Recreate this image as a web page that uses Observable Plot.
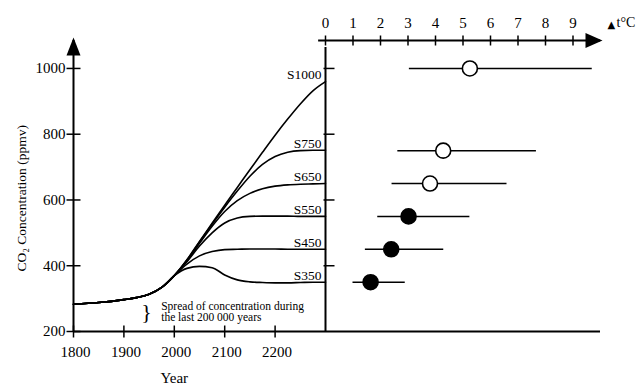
<!DOCTYPE html>
<html><head><meta charset="utf-8">
<script src="https://cdn.jsdelivr.net/npm/d3@7"></script>
<script src="https://cdn.jsdelivr.net/npm/@observablehq/plot@0.6"></script>
<style>
body{margin:0;background:#fff;}
#wrap{position:relative;width:637px;height:387px;background:#fff;}
#wrap svg{position:absolute;left:0;top:0;background:transparent !important;}
</style></head><body><div id="wrap"></div>
<script>
// ---- data ----
const histYears = [1800, 1850, 1900, 1925, 1950, 1975, 2000];
const histPpm   = [283, 288, 297, 303, 313, 334, 370];
const futureYears = [2025, 2050, 2075, 2100, 2125, 2150, 2175, 2200, 2225, 2250, 2275, 2300];
const scenarioNames = ["S1000", "S750", "S650", "S550", "S450", "S350"];
const s1000 = [418, 474, 529, 584, 638, 692, 745, 797, 846, 892, 932, 960];
const s750  = [417, 472, 526, 578, 627, 672, 708, 732, 745, 750, 751, 751];
const s650  = [415, 468, 520, 565, 598, 620, 634, 642, 646, 648, 649, 650];
const s550  = [412, 460, 500, 530, 545, 550, 551, 551, 551, 550, 550, 550];
const s450  = [405, 430, 443, 449, 450, 451, 451, 451, 450, 450, 450, 450];
const s350  = [392, 398, 394, 372, 357, 351, 349, 348, 348, 349, 350, 350];
const scenarioSeries = [s1000, s750, s650, s550, s450, s350];
const stabLevel = [1000, 750, 650, 550, 450, 350];
const tempBest = [5.25, 4.28, 3.80, 3.02, 2.39, 1.64];
const tempLow  = [3.05, 2.63, 2.42, 1.90, 1.45, 1.00];
const tempHigh = [9.70, 7.67, 6.60, 5.25, 4.30, 2.90];
const openMarker = [true, true, true, false, false, false];
const yTickValues = [200, 400, 600, 800, 1000];
const dividerTicks = [400, 600, 800, 1000];
const xTickValues = [1800, 1900, 2000, 2100, 2200];
const tTickValues = [0, 1, 2, 3, 4, 5, 6, 7, 8, 9];
const yTop = 1085;
const font = "Liberation Serif, Times New Roman, serif";

// ---- tables ----
const lines = [];
scenarioNames.forEach((name, i) => {
  histYears.forEach((yr, j) => lines.push({name, year: yr, ppm: histPpm[j]}));
  futureYears.forEach((yr, j) => lines.push({name, year: yr, ppm: scenarioSeries[i][j]}));
});
const ends = scenarioNames.map((name, i) => ({name, ppm: scenarioSeries[i][futureYears.length - 1]}));
const temps = scenarioNames.map((name, i) => ({name, level: stabLevel[i], t: tempBest[i], lo: tempLow[i], hi: tempHigh[i], open: openMarker[i]}));

// custom line symbols
const vTick = (a, b) => ({draw(ctx) { ctx.moveTo(0, -a); ctx.lineTo(0, b); }});
const hTick = (a, b) => ({draw(ctx) { ctx.moveTo(-a, 0); ctx.lineTo(b, 0); }});
const upArrow = {draw(ctx) { ctx.moveTo(0, -3); ctx.lineTo(7, 15); ctx.lineTo(-7, 15); ctx.closePath(); }};
const rightArrow = {draw(ctx) { ctx.moveTo(2, 0); ctx.lineTo(-15, -7.5); ctx.lineTo(-15, 7.5); ctx.closePath(); }};

const common = {width: 637, height: 387, marginTop: 40, marginBottom: 56,
  style: {fontFamily: font, fontSize: "14px", color: "black", background: "transparent"}};

const left = Plot.plot({
  ...common,
  marginLeft: 73, marginRight: 312,
  x: {domain: [1800, 2300], axis: null},
  y: {domain: [200, yTop], axis: null},
  marks: [
    Plot.ruleX([1800], {y1: 200, y2: yTop, stroke: "black", strokeWidth: 2}),
    Plot.ruleX([2300], {y1: 200, y2: yTop, stroke: "black", strokeWidth: 2, insetBottom: -7}),
    Plot.ruleY([200], {x1: 1800, x2: 2300, stroke: "black", strokeWidth: 2}),
    Plot.dot([0], {x: () => 1800, y: () => yTop, symbol: upArrow, fill: "black", stroke: "none"}),
    Plot.dot(yTickValues, {x: () => 1800, y: d => d, symbol: hTick(7, 7), stroke: "black", strokeWidth: 1.5, fill: "none"}),
    Plot.dot(dividerTicks, {x: () => 2300, y: d => d, symbol: hTick(2, 9), stroke: "black", strokeWidth: 1.5, fill: "none"}),
    Plot.dot(xTickValues, {x: d => d, y: () => 200, symbol: vTick(6, 6), stroke: "black", strokeWidth: 1.5, fill: "none"}),
    Plot.text(yTickValues, {x: () => 1800, y: d => d, text: d => String(d), textAnchor: "end", dx: -8, fontSize: 15}),
    Plot.text(xTickValues, {x: d => d, y: () => 200, text: d => String(d), dx: 2, dy: 21, fontSize: 15}),
    Plot.text(["Year"], {x: () => 2000, y: () => 200, dy: 47, fontSize: 15}),
    Plot.text(["CO₂ Concentration (ppmv)"], {x: () => 1800, y: () => 605, rotate: -90, dx: -52, fontSize: 13.5}),
    Plot.line(lines, {x: "year", y: "ppm", z: "name", curve: "monotone-x", stroke: "black", strokeWidth: 1.6}),
    Plot.text(ends, {x: () => 2300, y: "ppm", text: "name", textAnchor: "end", dx: -4, dy: -7, fontSize: 13.5}),
    Plot.text(["}"], {x: () => 1945, y: () => 258, fontSize: 22, fontWeight: 300}),
    Plot.text(["Spread of concentration during\nthe last 200 000 years"], {x: () => 1974, y: () => 258, textAnchor: "start", fontSize: 11.5, lineHeight: 0.95})
  ]
});

const right = Plot.plot({
  ...common,
  marginLeft: 325, marginRight: 37,
  x: {domain: [0, 10], axis: null},
  y: {domain: [200, yTop], axis: null},
  marks: [
    Plot.ruleY([yTop], {x1: -0.25, x2: 10, stroke: "black", strokeWidth: 2}),
    Plot.ruleY([200], {x1: 0, x2: 10, stroke: "black", strokeWidth: 2}),
    Plot.dot(tTickValues, {x: d => d, y: () => yTop, symbol: vTick(5, 5), stroke: "black", strokeWidth: 1.5, fill: "none"}),
    Plot.text(tTickValues, {x: d => d, y: () => yTop, text: d => String(d), dy: -17, fontSize: 15}),
    Plot.dot([0], {x: () => 10, y: () => yTop, symbol: rightArrow, fill: "black", stroke: "none"}),
    Plot.text(["▲"], {x: () => 10, y: () => yTop, dx: 7, dy: -16, textAnchor: "start", fontSize: 10, fontFamily: "DejaVu Sans"}),
    Plot.text(["t°C"], {x: () => 10, y: () => yTop, dx: 16, dy: -18, textAnchor: "start", fontSize: 14}),
    Plot.ruleY(temps, {y: "level", x1: "lo", x2: "hi", stroke: "black", strokeWidth: 1.5}),
    Plot.dot(temps, {x: "t", y: "level", r: 7.5, fill: d => d.open ? "white" : "black", stroke: "black", strokeWidth: 1.6})
  ]
});

document.getElementById("wrap").append(left, right);
</script></body></html>
